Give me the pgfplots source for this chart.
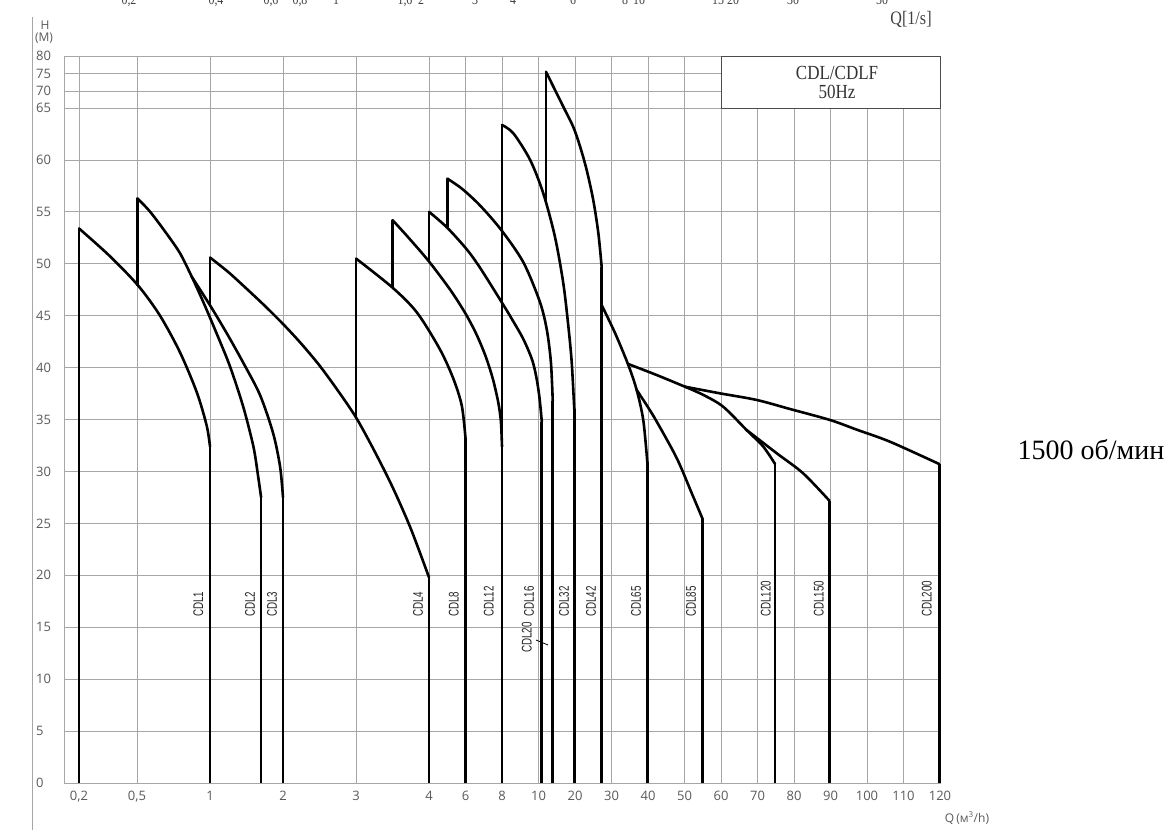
\documentclass[border=0pt]{standalone}
\usepackage{fontspec}
\setmainfont{Open Sans}
\newfontfamily\serifn[FakeStretch=0.85]{Liberation Serif}
\newfontfamily\timesf{Liberation Serif}
\newfontfamily\narrow[FakeStretch=0.7]{Liberation Sans}
\usepackage{pgfplots}
\pgfplotsset{compat=1.18}

\definecolor{gridgray}{HTML}{A6A6A6}
\definecolor{labgray}{HTML}{595959}

% x axis: 0.2 -> 0.41, 0.5 -> 2, 1 -> 4, 2 -> 6, 3 -> 8, 4 -> 10, 6 -> 11, 8 -> 12, 10 -> 13, then 10 m3/h per unit
% y axis: linear up to 65, then 70 -> 66.6, 75 -> 68.3, 80 -> 70
\pgfplotsset{
  curve/.style={black, line width=2.6pt, smooth, tension=0.5, line cap=round, line join=round},
  vline/.style={black, line width=2.6pt},
}
\tikzset{
  lab/.style={font=\narrow\fontsize{14}{14}\selectfont, text=black!85, rotate=90, anchor=west, inner sep=0pt},
}

\begin{document}
\begin{tikzpicture}[x=1pt,y=1pt]
\useasboundingbox (0,0) rectangle (1174,836);
\draw[gridgray, line width=0.8pt] (32,819) -- (32,6);

% upper scale, cut at the top edge
\begin{scope}[font=\serifn\fontsize{14}{14}\selectfont, text=black!75]
\foreach \px/\t in {129/{0,2},216/{0,4},271/{0,6},300/{0,8},336/1,405/{1,6},421/2,475/3,513/4,573/6,625/8,639/10,718/15,733/20,793/30,882/50}
  \node[anchor=base, inner sep=0pt] at (\px,831) {\t};
\node[inner sep=0pt, font=\serifn\fontsize{19}{19}\selectfont] at (911,817) {Q[1/s]};
\end{scope}

\node[font=\fontsize{12}{13}\selectfont, text=labgray, inner sep=0pt] at (45,811) {H};
\node[font=\fontsize{12}{13}\selectfont, text=labgray, inner sep=0pt] at (44,798) {(M)};
\node[font=\fontsize{12}{13}\selectfont, text=labgray, inner sep=0pt] at (967,18) {Q\,(м\textsuperscript{3}/h)};
\node[font=\timesf\fontsize{28}{30}\selectfont, inner sep=0pt] at (1091,386) {1500 об/мин};

\begin{axis}[
  at={(64pt,53pt)}, anchor=south west,
  scale only axis, width=876pt, height=727pt,
  xmin=0, xmax=24, ymin=0, ymax=70,
  clip=false,
  xtick={0.41,2,4,6,8,10,11,12,13,14,15,16,17,18,19,20,21,22,23,24},
  xticklabels={{0,2},{0,5},1,2,3,4,6,8,10,20,30,40,50,60,70,80,90,100,110,120},
  ytick={0,5,10,15,20,25,30,35,40,45,50,55,60,65,66.6,68.3,70},
  yticklabels={0,5,10,15,20,25,30,35,40,45,50,55,60,65,70,75,80},
  grid=major,
  grid style={gridgray, line width=0.7pt},
  axis line style={gridgray, line width=0.8pt},
  major tick length=0pt,
  tick label style={font=\fontsize{13}{14}\selectfont, text=labgray},
  xticklabel style={yshift=-5pt},
  yticklabel style={anchor=west, xshift=-31.3pt},
]

% box with the series name
\draw[black!70, fill=white, line width=0.8pt] (axis cs:18,65) rectangle (axis cs:24,70);
\node[font=\serifn\fontsize{20}{19}\selectfont, text=black!80, align=center] at (axis cs:21.18,67.45) {CDL/CDLF\\50Hz};

% CDL1
\addplot[vline] coordinates {(0.41,0) (0.41,53.4)};
\addplot[curve] coordinates {(0.41,53.4) (1.25,50.75) (2.03,47.9) (2.63,45.0) (3.18,41.45) (3.64,37.6) (3.91,34.4) (4,32.4)};
\addplot[vline] coordinates {(4,0) (4,32.4)};

% CDL2 / CDL3 (common start at 0.5)
\addplot[vline] coordinates {(2.01,47.9) (2.01,56.3)};
\addplot[curve] coordinates {(2.01,56.3) (2.36,55.0) (2.81,52.9) (3.18,51.0) (3.5,48.75) (3.82,46.28) (4.18,43.3) (4.55,40.09) (4.91,36.23) (5.19,32.38) (5.32,29.49) (5.4,27.5)};
\addplot[curve] coordinates {(3.5,48.75) (4.0,46.0) (4.46,43.3) (4.91,40.47) (5.37,37.36) (5.73,33.67) (5.92,30.46) (6.0,27.5)};
\addplot[vline] coordinates {(5.4,0) (5.4,27.5)};
\addplot[vline] coordinates {(6,0) (6,27.5)};

% CDL4
\addplot[vline] coordinates {(4,46.0) (4,50.6)};
\addplot[curve] coordinates {(4,50.6) (4.5,49.2) (5,47.6) (5.5,45.95) (6,44.2) (6.5,42.3) (7,40.2) (7.5,37.8) (8,35.2) (8.5,32.0) (9,28.5) (9.5,24.5) (10,19.8)};
\addplot[vline] coordinates {(10,0) (10,19.8)};

% CDL8
\addplot[vline] coordinates {(8,35.2) (8,50.5)};
\addplot[curve] coordinates {(8,50.5) (9.0,47.7) (9.67,45.3) (10.3,41.75) (10.67,38.9) (10.9,36.3) (11,33.2)};
\addplot[vline] coordinates {(11,0) (11,33.2)};

% CDL12
\addplot[vline] coordinates {(9.0,47.7) (9.0,54.2)};
\addplot[curve] coordinates {(9.0,54.2) (9.39,52.7) (9.98,50.3) (10.58,47.5) (11.0,45.2) (11.3,43.2) (11.55,41.1) (11.75,38.9) (11.9,36.6) (11.97,34.8) (12,32.4)};
\addplot[vline] coordinates {(12,0) (12,63.36)};

% CDL16
\addplot[vline] coordinates {(10,50.3) (10,55.0)};
\addplot[curve] coordinates {(10,55.0) (10.49,53.5) (11.03,51.4) (11.4,49.6) (11.99,46.3) (12.3,44.5) (12.59,42.7) (12.83,40.7) (12.95,38.9) (13.03,37.0) (13.09,34.8)};
\addplot[vline] coordinates {(13.09,0) (13.09,34.8)};

% CDL20
\addplot[vline] coordinates {(10.5,53.5) (10.5,58.2)};
\addplot[curve] coordinates {(10.5,58.2) (10.91,57.2) (11.4,55.6) (11.99,53.2) (12.59,50.1) (13.04,46.3) (13.23,43.6) (13.34,40.5) (13.39,36.8)};
\addplot[vline] coordinates {(13.39,0) (13.39,36.8)};

% CDL32
\addplot[curve] coordinates {(12,63.36) (12.31,62.56) (12.77,60.0) (13.13,56.78) (13.45,52.6) (13.68,48.1) (13.82,43.9) (13.91,40.5) (13.98,36.0)};
\addplot[vline] coordinates {(13.98,0) (13.98,36.0)};

% CDL42
\addplot[vline] coordinates {(13.205,55.9) (13.205,68.49)};
\addplot[curve] coordinates {(13.205,68.49) (13.68,65.11) (13.95,63.19) (14.14,61.27) (14.32,59.02) (14.5,56.13) (14.64,52.93) (14.73,49.71)};
\addplot[vline] coordinates {(14.73,0) (14.73,49.71)};

% CDL65
\addplot[curve] coordinates {(14.73,46.02) (15.1,43.3) (15.46,40.25) (15.69,37.84) (15.87,34.95) (15.98,30.94)};
\addplot[vline] coordinates {(15.98,0) (15.98,30.94)};

% CDL85
\addplot[curve] coordinates {(15.69,37.84) (15.96,36.4) (16.24,34.79) (16.79,31.26) (17.2,27.89) (17.5,25.39)};
\addplot[vline] coordinates {(17.5,0) (17.5,25.39)};

% CDL200 / CDL120 / CDL150 (common start)
\addplot[curve] coordinates {(15.46,40.34) (16.24,39.28) (17.01,38.16)};
\addplot[curve] coordinates {(17.01,38.16) (17.97,37.52) (18.98,36.88) (19.89,36.01) (20.99,34.95) (21.72,34.02) (22.63,32.86) (23.98,30.71)};
\addplot[vline] coordinates {(23.98,0) (23.98,30.71)};
\addplot[curve] coordinates {(17.01,38.16) (17.52,37.36) (18.06,36.23) (18.7,33.99) (19.16,32.38) (19.48,30.72)};
\addplot[vline] coordinates {(19.48,0) (19.48,30.72)};
\addplot[curve] coordinates {(18.7,33.99) (19.53,31.74) (20.25,29.82) (20.97,27.18)};
\addplot[vline] coordinates {(20.97,0) (20.97,27.18)};

% model names
\node[lab] at (axis cs:3.68,16) {CDL1};
\node[lab] at (axis cs:5.10,16) {CDL2};
\node[lab] at (axis cs:5.70,16) {CDL3};
\node[lab] at (axis cs:9.70,16) {CDL4};
\node[lab] at (axis cs:10.68,16) {CDL8};
\node[lab] at (axis cs:11.64,16) {CDL12};
\node[lab] at (axis cs:12.74,16) {CDL16};
\node[lab] at (axis cs:12.68,12.5) {CDL20};
\draw[black, line width=0.8pt] (axis cs:12.93,13.77) -- (axis cs:13.26,13.29);
\node[lab] at (axis cs:13.70,16) {CDL32};
\node[lab] at (axis cs:14.44,16) {CDL42};
\node[lab] at (axis cs:15.67,16) {CDL65};
\node[lab] at (axis cs:17.18,16) {CDL85};
\node[lab] at (axis cs:19.23,16) {CDL120};
\node[lab] at (axis cs:20.68,16) {CDL150};
\node[lab] at (axis cs:23.64,16) {CDL200};
\end{axis}
\end{tikzpicture}
\end{document}
